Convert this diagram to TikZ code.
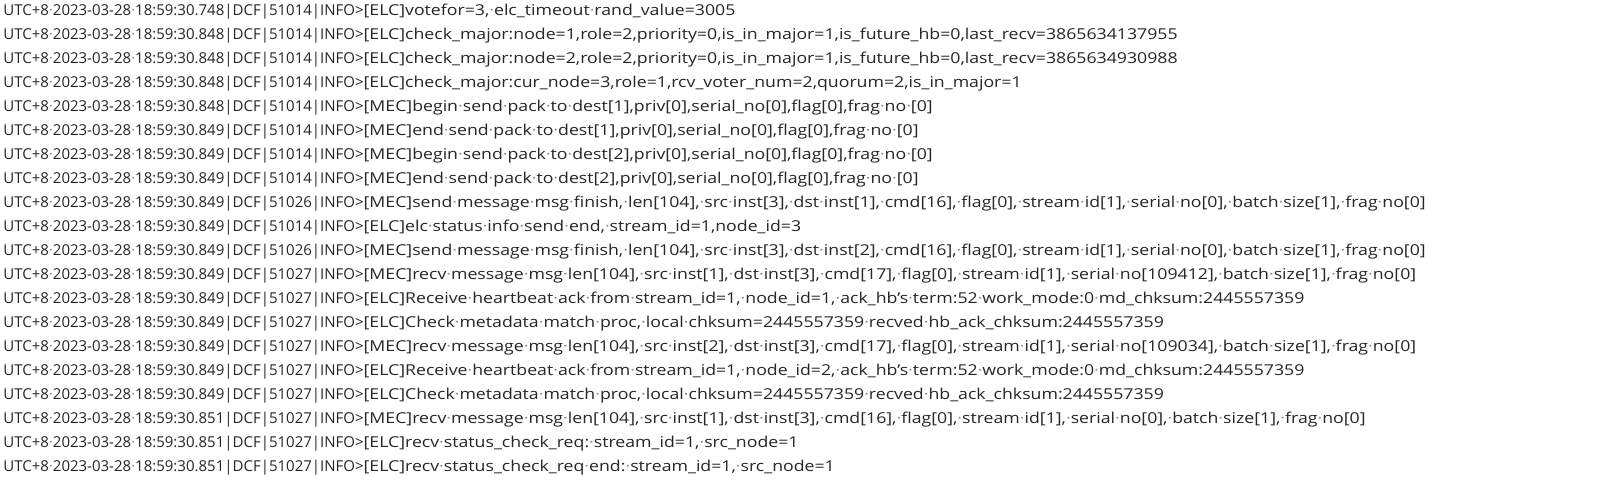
\documentclass[tikz,border=0pt]{standalone}
\usepackage{fontspec}
\setmainfont{Open Sans}[FakeStretch=1.18]
\newfontfamily\prefont{Open Sans}[FakeStretch=1.0]
\usetikzlibrary{positioning}

\definecolor{logtext}{HTML}{262626}
\definecolor{wsdot}{HTML}{8C8C8C}
% visible whitespace dot and common line prefix
\newcommand{\dt}{\textcolor{wsdot}{\char"00B7}}
\newcommand{\logpre}[2]{{\prefont UTC+8\dt2023-03-28\dt18:59:30.#1|DCF|#2|INFO>}}

\tikzset{
    logline/.style={anchor=base west, inner sep=0pt, text=logtext,
        font=\fontsize{7.5}{9}\selectfont}
}

\begin{document}
\begin{tikzpicture}[x=1pt,y=1pt]
    % Page
    \fill[white] (0,0) rectangle (800,-241.5);
    \useasboundingbox (0,0) rectangle (800,-241.5);

    % Log lines
    \node[logline] (l1) at (1.5,-7.5) {\logpre{748}{51014}[ELC]votefor=3,\dt elc\_timeout\dt rand\_value=3005};
    \node[logline] (l2) at (1.5,-19.525) {\logpre{848}{51014}[ELC]check\_major:node=1,role=2,priority=0,is\_in\_major=1,is\_future\_hb=0,last\_recv=3865634137955};
    \node[logline] (l3) at (1.5,-31.55) {\logpre{848}{51014}[ELC]check\_major:node=2,role=2,priority=0,is\_in\_major=1,is\_future\_hb=0,last\_recv=3865634930988};
    \node[logline] (l4) at (1.5,-43.575) {\logpre{848}{51014}[ELC]check\_major:cur\_node=3,role=1,rcv\_voter\_num=2,quorum=2,is\_in\_major=1};
    \node[logline] (l5) at (1.5,-55.6) {\logpre{848}{51014}[MEC]begin\dt send\dt pack\dt to\dt dest[1],priv[0],serial\_no[0],flag[0],frag\dt no\dt[0]};
    \node[logline] (l6) at (1.5,-67.625) {\logpre{849}{51014}[MEC]end\dt send\dt pack\dt to\dt dest[1],priv[0],serial\_no[0],flag[0],frag\dt no\dt[0]};
    \node[logline] (l7) at (1.5,-79.65) {\logpre{849}{51014}[MEC]begin\dt send\dt pack\dt to\dt dest[2],priv[0],serial\_no[0],flag[0],frag\dt no\dt[0]};
    \node[logline] (l8) at (1.5,-91.675) {\logpre{849}{51014}[MEC]end\dt send\dt pack\dt to\dt dest[2],priv[0],serial\_no[0],flag[0],frag\dt no\dt[0]};
    \node[logline] (l9) at (1.5,-103.7) {\logpre{849}{51026}[MEC]send\dt message\dt msg\dt finish,\dt len[104],\dt src\dt inst[3],\dt dst\dt inst[1],\dt cmd[16],\dt flag[0],\dt stream\dt id[1],\dt serial\dt no[0],\dt batch\dt size[1],\dt frag\dt no[0]};
    \node[logline] (l10) at (1.5,-115.725) {\logpre{849}{51014}[ELC]elc\dt status\dt info\dt send\dt end,\dt stream\_id=1,node\_id=3};
    \node[logline] (l11) at (1.5,-127.75) {\logpre{849}{51026}[MEC]send\dt message\dt msg\dt finish,\dt len[104],\dt src\dt inst[3],\dt dst\dt inst[2],\dt cmd[16],\dt flag[0],\dt stream\dt id[1],\dt serial\dt no[0],\dt batch\dt size[1],\dt frag\dt no[0]};
    \node[logline] (l12) at (1.5,-139.775) {\logpre{849}{51027}[MEC]recv\dt message\dt msg\dt len[104],\dt src\dt inst[1],\dt dst\dt inst[3],\dt cmd[17],\dt flag[0],\dt stream\dt id[1],\dt serial\dt no[109412],\dt batch\dt size[1],\dt frag\dt no[0]};
    \node[logline] (l13) at (1.5,-151.8) {\logpre{849}{51027}[ELC]Receive\dt heartbeat\dt ack\dt from\dt stream\_id=1,\dt node\_id=1,\dt ack\_hb's\dt term:52\dt work\_mode:0\dt md\_chksum:2445557359};
    \node[logline] (l14) at (1.5,-163.825) {\logpre{849}{51027}[ELC]Check\dt metadata\dt match\dt proc,\dt local\dt chksum=2445557359\dt recved\dt hb\_ack\_chksum:2445557359};
    \node[logline] (l15) at (1.5,-175.85) {\logpre{849}{51027}[MEC]recv\dt message\dt msg\dt len[104],\dt src\dt inst[2],\dt dst\dt inst[3],\dt cmd[17],\dt flag[0],\dt stream\dt id[1],\dt serial\dt no[109034],\dt batch\dt size[1],\dt frag\dt no[0]};
    \node[logline] (l16) at (1.5,-187.875) {\logpre{849}{51027}[ELC]Receive\dt heartbeat\dt ack\dt from\dt stream\_id=1,\dt node\_id=2,\dt ack\_hb's\dt term:52\dt work\_mode:0\dt md\_chksum:2445557359};
    \node[logline] (l17) at (1.5,-199.9) {\logpre{849}{51027}[ELC]Check\dt metadata\dt match\dt proc,\dt local\dt chksum=2445557359\dt recved\dt hb\_ack\_chksum:2445557359};
    \node[logline] (l18) at (1.5,-211.925) {\logpre{851}{51027}[MEC]recv\dt message\dt msg\dt len[104],\dt src\dt inst[1],\dt dst\dt inst[3],\dt cmd[16],\dt flag[0],\dt stream\dt id[1],\dt serial\dt no[0],\dt batch\dt size[1],\dt frag\dt no[0]};
    \node[logline] (l19) at (1.5,-223.95) {\logpre{851}{51027}[ELC]recv\dt status\_check\_req:\dt stream\_id=1,\dt src\_node=1};
    \node[logline] (l20) at (1.5,-235.975) {\logpre{851}{51027}[ELC]recv\dt status\_check\_req\dt end:\dt stream\_id=1,\dt src\_node=1};
\end{tikzpicture}
\end{document}
